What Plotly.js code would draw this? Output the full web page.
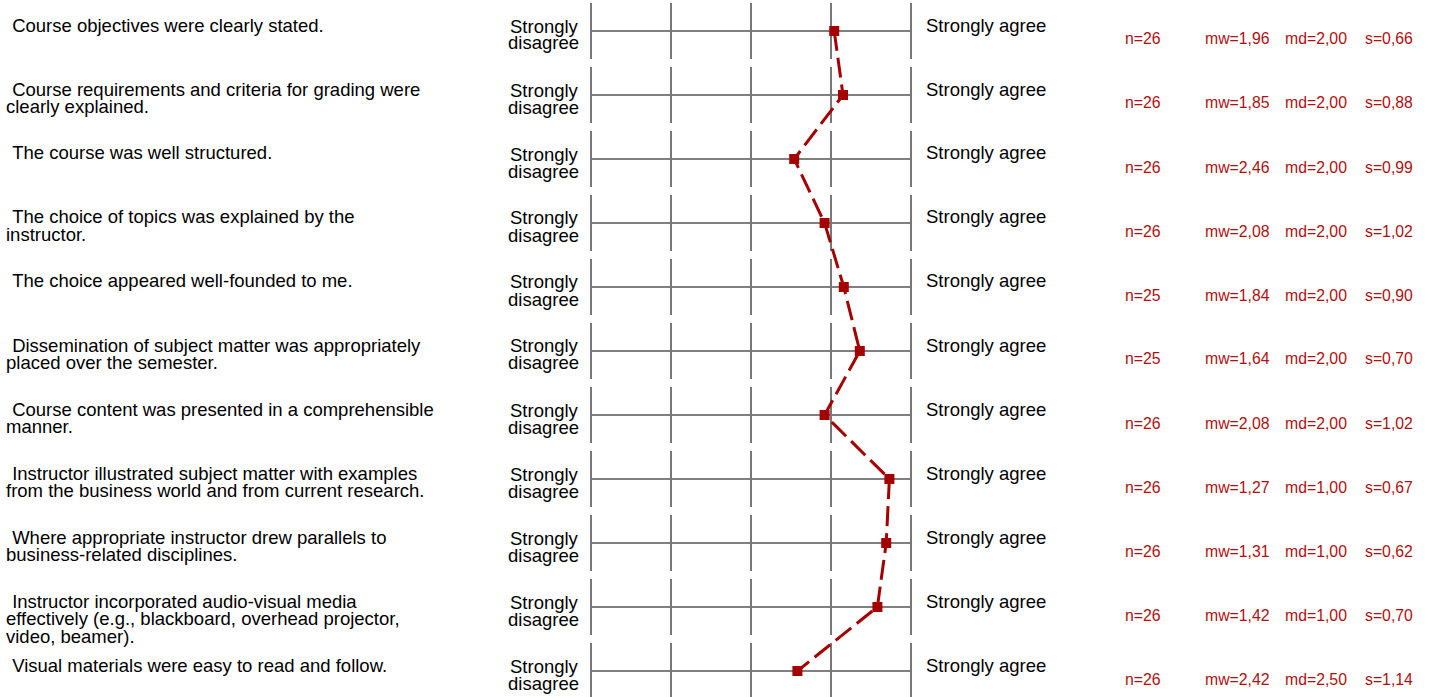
<!DOCTYPE html>
<html><head><meta charset="utf-8">
<script src="https://cdn.plot.ly/plotly-3.0.1.min.js"></script>
<style>html,body{margin:0;padding:0;background:#fff;overflow:hidden}</style>
</head><body><div id="chart" style="width:1431px;height:697px"></div>
<script>
const questions = [
 ["Course objectives were clearly stated."],
 ["Course requirements and criteria for grading were", "clearly explained."],
 ["The course was well structured."],
 ["The choice of topics was explained by the", "instructor."],
 ["The choice appeared well-founded to me."],
 ["Dissemination of subject matter was appropriately", "placed over the semester."],
 ["Course content was presented in a comprehensible", "manner."],
 ["Instructor illustrated subject matter with examples", "from the business world and from current research."],
 ["Where appropriate instructor drew parallels to", "business-related disciplines."],
 ["Instructor incorporated audio-visual media", "effectively (e.g., blackboard, overhead projector,", "video, beamer)."],
 ["Visual materials were easy to read and follow."]
];
const leftLabel = ["Strongly", "disagree"];
const rightLabel = "Strongly agree";
const scalePoints = [1, 2, 3, 4, 5];
const nValues = [26, 26, 26, 26, 25, 25, 26, 26, 26, 26, 26];
const meanValues = [1.96, 1.85, 2.46, 2.08, 1.84, 1.64, 2.08, 1.27, 1.31, 1.42, 2.42];
const medianValues = [2.00, 2.00, 2.00, 2.00, 2.00, 2.00, 2.00, 1.00, 1.00, 1.00, 2.50];
const sdValues = [0.66, 0.88, 0.99, 1.02, 0.90, 0.70, 1.02, 0.67, 0.62, 0.70, 1.14];

const W = 1431, H = 697;
const RED = '#a50000';
const TXT = '#000000';
const FONT = 'Liberation Sans, Arial, Helvetica, sans-serif';
const fmt = v => v.toFixed(2).replace('.', ',');
// layout geometry (pixels)
const x1px = 911, stepPx = 80, row0 = 31, rowStep = 64, halfSeg = 28, lineGap = 17.5;
const xr = [1 + (x1px - 0) / stepPx, 1 + (x1px - W) / stepPx];
const yr = [(H - row0) / rowStep, -row0 / rowStep];
const px = p => p / W;
const py = p => 1 - p / H;

const rows = questions.map((q, i) => i);
const shapes = [];
const annotations = [];
rows.forEach(i => {
  shapes.push({type: 'line', xref: 'x', yref: 'y', x0: 5, x1: 1, y0: i, y1: i,
    line: {color: '#555555', width: 1.3}, layer: 'below'});
  scalePoints.forEach(v => {
    shapes.push({type: 'line', xref: 'x', yref: 'y', x0: v, x1: v,
      y0: i - halfSeg / rowStep, y1: i + halfSeg / rowStep,
      line: {color: '#777777', width: 2}, layer: 'below'});
  });
  const c = row0 + rowStep * i;
  questions[i].forEach((line, k) => {
    annotations.push({xref: 'paper', yref: 'paper', x: px(k === 0 ? 5 : 4), y: py(c - 6 + lineGap * k),
      xanchor: 'left', yanchor: 'middle', showarrow: false,
      text: (k === 0 ? '\u00a0' : '') + line,
      font: {family: FONT, size: 18.5, color: TXT}});
  });
  leftLabel.forEach((t, k) => {
    annotations.push({xref: 'paper', yref: 'paper', x: px(581), y: py(c - 5 + 17 * k),
      xanchor: 'right', yanchor: 'middle', showarrow: false, text: t,
      font: {family: FONT, size: 18.5, color: TXT}});
  });
  annotations.push({xref: 'paper', yref: 'paper', x: px(924), y: py(c - 6),
    xanchor: 'left', yanchor: 'middle', showarrow: false, text: rightLabel,
    font: {family: FONT, size: 18.5, color: TXT}});
  const stats = [
    ['n=' + nValues[i], 1123],
    ['mw=' + fmt(meanValues[i]), 1203],
    ['md=' + fmt(medianValues[i]), 1283],
    ['s=' + fmt(sdValues[i]), 1363]
  ];
  stats.forEach(([t, x]) => {
    annotations.push({xref: 'paper', yref: 'paper', x: px(x), y: py(c + 8),
      xanchor: 'left', yanchor: 'middle', showarrow: false, text: t,
      font: {family: FONT, size: 15.8, color: '#b01010'}});
  });
});

const trace = {
  type: 'scatter', mode: 'lines+markers',
  x: meanValues, y: rows,
  line: {color: RED, width: 3, dash: '20px,7px'},
  marker: {symbol: 'square', size: 10, color: RED},
  hoverinfo: 'skip', cliponaxis: false
};

Plotly.newPlot('chart', [trace], {
  width: W, height: H,
  margin: {l: 0, r: 0, t: 0, b: 0, pad: 0},
  paper_bgcolor: '#ffffff', plot_bgcolor: '#ffffff',
  showlegend: false,
  xaxis: {range: xr, visible: false, fixedrange: true},
  yaxis: {range: yr, visible: false, fixedrange: true},
  shapes: shapes, annotations: annotations
}, {displayModeBar: false, staticPlot: true});
</script></body></html>
